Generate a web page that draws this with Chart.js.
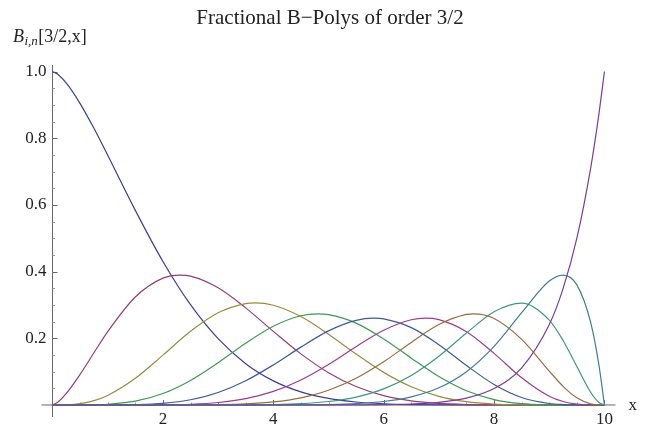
<!DOCTYPE html>
<html>
<head>
<meta charset="utf-8">
<title>Fractional B-Polys of order 3/2</title>
<script src="https://cdn.jsdelivr.net/npm/chart.js@4.4.1/dist/chart.umd.min.js"></script>
<style>
  html, body { margin: 0; padding: 0; background: #ffffff; }
  #wrap { width: 647px; height: 427px; position: relative; }
</style>
</head>
<body>
<div id="wrap"><canvas id="bpolys" width="647" height="427"></canvas></div>
<script>
// sample positions along x (0..10)
var xGrid = [0, 0.1, 0.25, 0.5, 0.75, 1, 1.5, 2, 2.5, 3, 3.5, 4, 4.5, 5, 5.5, 6, 6.5, 7, 7.5, 8, 8.5, 9, 9.25, 9.5, 9.75, 9.9, 10];

// B_{i,9}[3/2,x] values at each xGrid position
var b0 = [1, .9910, .9650, .9038, .8296, .7489, .5836, .4303, .3007, .1988, .1239, .0724, .0394, .0197, .0089, .0036, .0013, .0004, .0001, 0, 0, 0, 0, 0, 0, 0, 0];
var b1 = [0, .0089, .0345, .0920, .1566, .2201, .3239, .3804, .3866, .3518, .2913, .2208, .1533, .0970, .0555, .0282, .0124, .0046, .0013, .0003, 0, 0, 0, 0, 0, 0, 0];
var b2 = [0, 0, .0006, .0042, .0131, .0287, .0799, .1495, .2209, .2767, .3042, .2991, .2652, .2123, .1528, .0978, .0547, .0259, .0099, .0028, .0005, 0, 0, 0, 0, 0, 0];
var b3 = [0, 0, 0, .0001, .0006, .0022, .0115, .0343, .0736, .1269, .1854, .2363, .2676, .2709, .2456, .1982, .1405, .0854, .0427, .0163, .0041, .0005, .0001, 0, 0, 0, 0];
var b4 = [0, 0, 0, 0, 0, .0001, .0011, .0050, .0158, .0374, .0726, .1201, .1735, .2223, .2538, .2581, .2321, .1810, .1186, .0615, .0225, .0045, .0013, .0002, 0, 0, 0];
var b5 = [0, 0, 0, 0, 0, 0, .0001, .0005, .0023, .0074, .0190, .0407, .0750, .1216, .1749, .2241, .2555, .2559, .2198, .1548, .0815, .0261, .0104, .0026, .0002, 0, 0];
var b6 = [0, 0, 0, 0, 0, 0, 0, 0, .0002, .0010, .0033, .0092, .0216, .0443, .0803, .1297, .1876, .2411, .2716, .2595, .1969, .1017, .0560, .0215, .0035, .0003, 0];
var b7 = [0, 0, 0, 0, 0, 0, 0, 0, 0, .0001, .0004, .0013, .0040, .0104, .0237, .0483, .0885, .1461, .2157, .2798, .3056, .2545, .1934, .1152, .0383, .0073, 0];
var b8 = [0, 0, 0, 0, 0, 0, 0, 0, 0, 0, 0, .0001, .0004, .0014, .0041, .0105, .0244, .0516, .0999, .1760, .2768, .3716, .3897, .3601, .2475, .1193, 0];
var b9 = [0, 0, 0, 0, 0, 0, 0, 0, 0, 0, 0, 0, 0, .0001, .0003, .0010, .0030, .0081, .0206, .0492, .1114, .2412, .3491, .5003, .7105, .8731, 1];

// top of each hump (null where the max sits at an end)
var peakX = [null, 2.311, 3.669, 4.807, 5.824, 6.758, 7.631, 8.457, 9.243, null];
var peakY = [null, .3897, .3062, .2731, .2602, .2602, .2731, .3062, .3897, null];

var curveColors = ['#3d3d99', '#993d71', '#998b3d', '#3d9956', '#3d5a99',
                   '#993d94', '#996d3d', '#3d997c', '#3d7e99', '#783d99'];

var xTicks = [2, 4, 6, 8, 10];
var yTicks = [0.2, 0.4, 0.6, 0.8, 1.0];
var yTickLabels = ['0.2', '0.4', '0.6', '0.8', '1.0'];

var titleText = 'Fractional B\u2212Polys of order 3/2';
var xLabel = 'x';

var serif = '"Liberation Serif", "DejaVu Serif", serif';

// build {x,y} points for one curve, slotting the hump top in
function buildPoints(vals, px, py) {
    var pts = [];
    for (var k = 0; k < xGrid.length; k++) {
        pts.push({x: xGrid[k], y: vals[k]});
    }
    if (px != null) {
        var near = pts.some(function (p) { return Math.abs(p.x - px) < 0.05; });
        if (!near) {
            pts.push({x: px, y: py});
            pts.sort(function (a, b) { return a.x - b.x; });
        }
    }
    return pts;
}

var allCurves = [b0, b1, b2, b3, b4, b5, b6, b7, b8, b9];
var datasets = [];
for (var i = 0; i < allCurves.length; i++) {
    datasets.push({
        label: 'B' + i,
        data: buildPoints(allCurves[i], peakX[i], peakY[i]),
        borderColor: curveColors[i],
        borderWidth: 1.2,
        pointRadius: 0,
        fill: false,
        cubicInterpolationMode: 'monotone',
        order: allCurves.length - i
    });
}

// axes through the origin, Mathematica style ticks and labels
var axesPlugin = {
    id: 'originAxes',
    beforeDatasetsDraw: function (chart) {
        var ctx = chart.ctx;
        var xs = chart.scales.x, ys = chart.scales.y;
        var area = chart.chartArea;
        var x0 = xs.getPixelForValue(0);
        var y0 = ys.getPixelForValue(0);

        ctx.save();
        ctx.strokeStyle = '#666666';
        ctx.lineWidth = 1;

        ctx.beginPath();
        ctx.moveTo(area.left, y0);
        ctx.lineTo(area.right, y0);
        ctx.moveTo(x0, area.bottom);
        ctx.lineTo(x0, area.top);
        ctx.stroke();

        // minor ticks
        ctx.strokeStyle = '#999999';
        ctx.beginPath();
        for (var v = 0.05; v < 1.01; v += 0.05) {
            var py = Math.round(ys.getPixelForValue(v)) + 0.5;
            ctx.moveTo(x0, py);
            ctx.lineTo(x0 + 2.5, py);
        }
        for (var u = 0.5; u < 10.01; u += 0.5) {
            var px = Math.round(xs.getPixelForValue(u)) + 0.5;
            ctx.moveTo(px, y0);
            ctx.lineTo(px, y0 - 2.5);
        }
        ctx.stroke();

        // major ticks
        ctx.strokeStyle = '#666666';
        ctx.beginPath();
        yTicks.forEach(function (v) {
            var py = Math.round(ys.getPixelForValue(v)) + 0.5;
            ctx.moveTo(x0, py);
            ctx.lineTo(x0 + 5, py);
        });
        xTicks.forEach(function (v) {
            var px = Math.round(xs.getPixelForValue(v)) + 0.5;
            ctx.moveTo(px, y0);
            ctx.lineTo(px, y0 - 5);
        });
        ctx.stroke();

        ctx.fillStyle = '#222222';
        ctx.font = '17px ' + serif;
        ctx.textAlign = 'right';
        ctx.textBaseline = 'middle';
        yTicks.forEach(function (v, k) {
            ctx.fillText(yTickLabels[k], x0 - 6, ys.getPixelForValue(v));
        });
        ctx.textAlign = 'center';
        xTicks.forEach(function (v) {
            ctx.fillText(String(v), xs.getPixelForValue(v), y0 + 15);
        });
        ctx.textAlign = 'left';
        ctx.fillText(xLabel, area.right + 13, y0 + 1);

        // y axis label: B_{i,n}[3/2,x]
        var lx = 13, ly = 42;
        ctx.textBaseline = 'alphabetic';
        ctx.font = 'italic 18px ' + serif;
        ctx.fillText('B', lx, ly);
        lx += ctx.measureText('B').width + 0.5;
        ctx.font = 'italic 13px ' + serif;
        ctx.fillText('i,n', lx, ly + 3);
        lx += ctx.measureText('i,n').width + 0.5;
        ctx.font = '18px ' + serif;
        ctx.fillText('[3/2,x]', lx, ly);

        // title
        ctx.font = '21px ' + serif;
        ctx.textAlign = 'center';
        ctx.textBaseline = 'middle';
        ctx.fillText(titleText, 330, 18);
        ctx.restore();
    }
};

var chart = new Chart(document.getElementById('bpolys').getContext('2d'), {
    type: 'line',
    data: { datasets: datasets },
    options: {
        responsive: false,
        animation: false,
        layout: { padding: { left: 41.5, right: 31.5, top: 65, bottom: 10 } },
        plugins: {
            legend: { display: false },
            tooltip: { enabled: false }
        },
        scales: {
            x: { type: 'linear', min: -0.2, max: 10.2, display: false },
            y: { type: 'linear', min: -0.036, max: 1.0195, display: false }
        }
    },
    plugins: [axesPlugin]
});
</script>
</body>
</html>
